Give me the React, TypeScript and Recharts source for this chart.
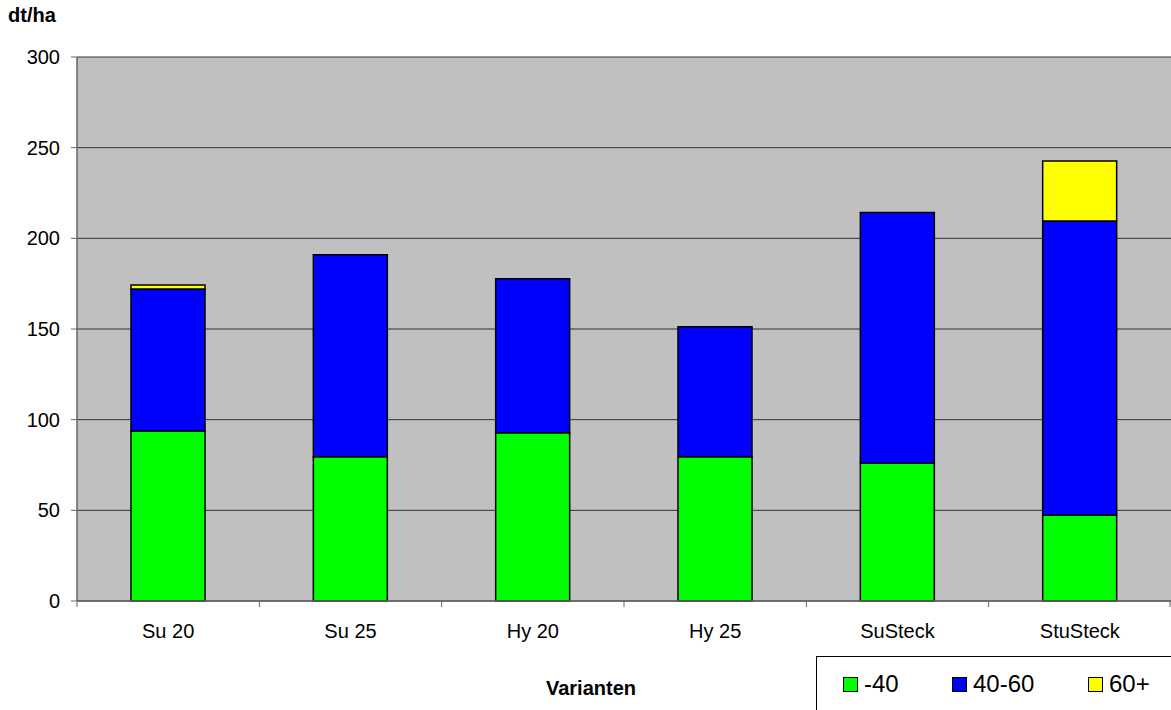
import React from 'react';
import { BarChart, Bar, XAxis, YAxis, CartesianGrid } from 'recharts';

const categories = ['Su 20', 'Su 25', 'Hy 20', 'Hy 25', 'SuSteck', 'StuSteck'];
const seriesLow = [93.8, 79.6, 92.8, 79.6, 75.9, 47.4];
const seriesMid = [78.2, 111.4, 84.9, 71.7, 138.4, 162.2];
const seriesHigh = [2.3, 0, 0, 0, 0, 33.0];
const yTicks = [0, 50, 100, 150, 200, 250, 300];
const seriesNames = ['-40', '40-60', '60+'];
const seriesKeys = ['low', 'mid', 'high'];
const seriesColors = ['#00FF00', '#0000FF', '#FFFF00'];

const data = categories.map((c, i) => ({
  name: c,
  low: seriesLow[i],
  mid: seriesMid[i],
  high: seriesHigh[i],
}));

const W = 1171;
const H = 710;
const LEFT = 77;
const TOP = 57;
const BOTTOM_Y = 601;
const BAND = (W - LEFT) / categories.length;
const FONT = '"Liberation Sans", Arial, sans-serif';
const AXIS_COLOR = '#666666';

const XTick = (props: any) => {
  const { x, y, payload, index } = props;
  const half = BAND / 2;
  return (
    <g>
      <line x1={x - half} y1={y} x2={x - half} y2={y + 6} stroke={AXIS_COLOR} strokeWidth={1} />
      {index === categories.length - 1 && (
        <line x1={x + half - 1} y1={y} x2={x + half - 1} y2={y + 6} stroke={AXIS_COLOR} strokeWidth={1} />
      )}
      <text x={x} y={y + 37} textAnchor="middle" fontSize={20} fill="#000" fontFamily={FONT}>
        {payload.value}
      </text>
    </g>
  );
};

const legendLeft = [843, 952, 1088];

export default function App() {
  return (
    <div style={{ position: 'absolute', left: 0, top: 0, width: W, height: H, background: '#fff', fontFamily: FONT, overflow: 'hidden' }}>
      <BarChart
        width={W}
        height={H}
        data={data}
        margin={{ top: TOP, right: 0, left: 0, bottom: H - BOTTOM_Y - 30 }}
        barSize={74}
      >
        <CartesianGrid
          vertical={false}
          stroke="#333333"
          strokeWidth={1}
          fill="#C0C0C0"
          fillOpacity={1}
        />
        <XAxis
          dataKey="name"
          height={30}
          tickSize={0}
          tickMargin={0}
          tickLine={false}
          axisLine={{ stroke: AXIS_COLOR, strokeWidth: 1.5 }}
          tick={<XTick />}
          interval={0}
        />
        <YAxis
          width={LEFT}
          domain={[0, 300]}
          ticks={yTicks}
          interval={0}
          tickSize={6}
          tickMargin={11}
          axisLine={{ stroke: AXIS_COLOR, strokeWidth: 1.5 }}
          tickLine={{ stroke: AXIS_COLOR, strokeWidth: 1 }}
          tick={{ fontSize: 20, fill: '#000', fontFamily: FONT }}
        />
        {seriesKeys.map((k, i) => (
          <Bar
            key={k}
            dataKey={k}
            name={seriesNames[i]}
            stackId="a"
            fill={seriesColors[i]}
            stroke="#000"
            strokeWidth={1.5}
            isAnimationActive={false}
          />
        ))}
      </BarChart>
      <div style={{ position: 'absolute', left: 8, top: 4, fontSize: 20, fontWeight: 'bold', color: '#000' }}>dt/ha</div>
      <div style={{ position: 'absolute', left: 0, width: 1182, top: 677, textAlign: 'center', fontSize: 20, fontWeight: 'bold', color: '#000' }}>Varianten</div>
      <div style={{ position: 'absolute', left: 816, top: 656, width: 400, height: 100, border: '1px solid #000', background: '#fff', boxSizing: 'border-box' }} />
      {seriesNames.map((n, i) => (
        <div key={n} style={{ position: 'absolute', left: legendLeft[i], top: 670, display: 'flex', alignItems: 'center', height: 28 }}>
          <span style={{ display: 'inline-block', width: 13, height: 13, background: seriesColors[i], border: '1px solid #000', marginRight: 6 }} />
          <span style={{ fontSize: 24, color: '#000', lineHeight: '28px' }}>{n}</span>
        </div>
      ))}
    </div>
  );
}
